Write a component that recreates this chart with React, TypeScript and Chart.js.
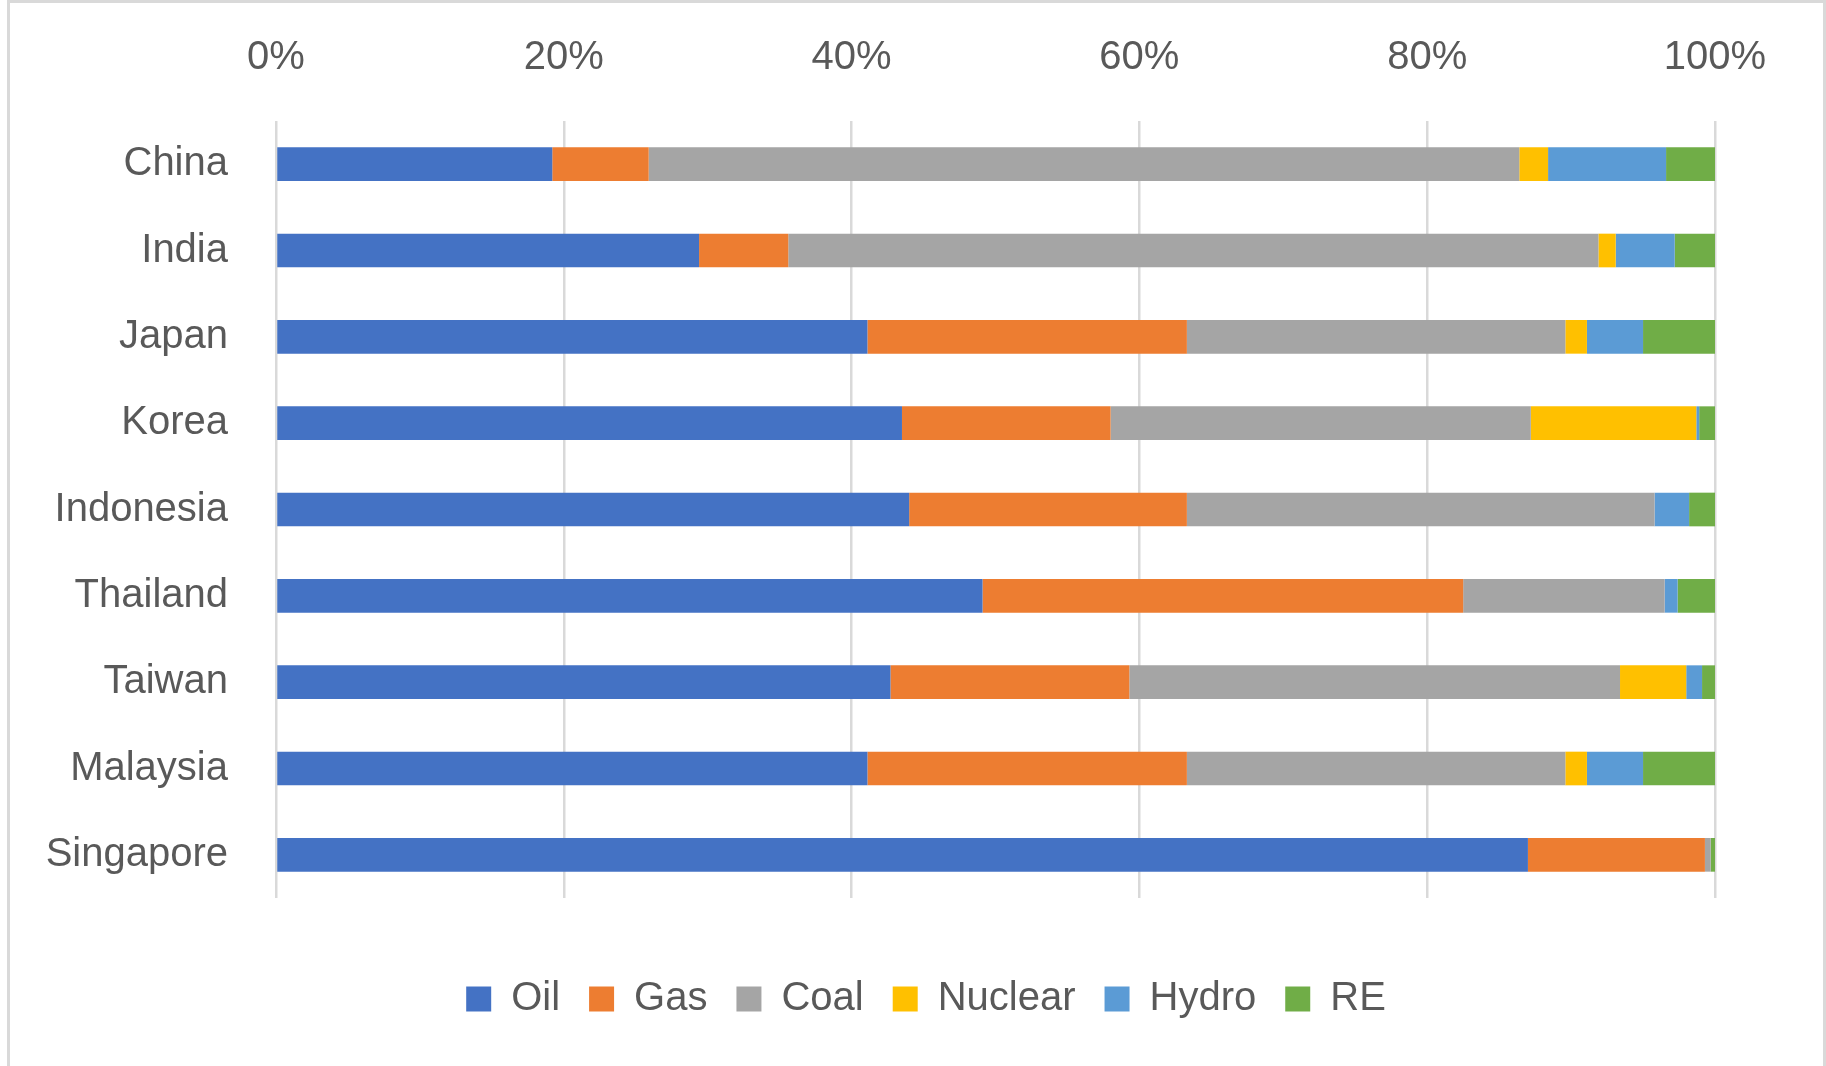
import React, { useEffect, useRef } from "react";
import { Chart, registerables } from "chart.js";

Chart.register(...registerables);

const categories = ["China", "India", "Japan", "Korea", "Indonesia", "Thailand", "Taiwan", "Malaysia", "Singapore"];
const oil = [19.2, 29.4, 41.1, 43.5, 44.0, 49.1, 42.7, 41.1, 87.0];
const gas = [6.7, 6.2, 22.2, 14.5, 19.3, 33.4, 16.6, 22.2, 12.3];
const coal = [60.5, 56.3, 26.3, 29.2, 32.5, 14.0, 34.1, 26.3, 0.4];
const nuclear = [2.0, 1.2, 1.5, 11.5, 0, 0, 4.6, 1.5, 0];
const hydro = [8.2, 4.1, 3.9, 0.2, 2.4, 0.9, 1.1, 3.9, 0];
const re = [3.4, 2.8, 5.0, 1.1, 1.8, 2.6, 0.9, 5.0, 0.3];
const xTicks = [0, 20, 40, 60, 80, 100];

const seriesNames = ["Oil", "Gas", "Coal", "Nuclear", "Hydro", "RE"];
const seriesColors = ["#4472C4", "#ED7D31", "#A5A5A5", "#FFC000", "#5B9BD5", "#70AD47"];

const W = 1826;
const H = 1066;
const FONT = "'Liberation Sans', Arial, sans-serif";
const TEXT = "#595959";

const framePlugin = {
  id: "frame",
  beforeDraw(chart: any) {
    const ctx = chart.ctx;
    ctx.save();
    ctx.fillStyle = "#ffffff";
    ctx.fillRect(0, 0, W, H);
    ctx.fillStyle = "#d9d9d9";
    ctx.fillRect(7, 0, 3, H);
    ctx.fillRect(7, 0, W - 7, 3);
    ctx.fillRect(W - 3, 0, 3, H);
    ctx.restore();
  },
};

// Legend in the reference is centred a little right of the canvas centre
const legendShiftPlugin = {
  id: "legendShift",
  afterLayout(chart: any) {
    const l = chart.legend;
    if (l) {
      l.left = 137;
      l.width = l.right - l.left;
    }
  },
};

export default function App() {
  const ref = useRef<HTMLCanvasElement | null>(null);

  useEffect(() => {
    if (!ref.current) return;
    const values = [oil, gas, coal, nuclear, hydro, re];
    const chart = new Chart(ref.current, {
      type: "bar",
      data: {
        labels: categories,
        datasets: seriesNames.map((name, i) => ({
          label: name,
          data: values[i],
          backgroundColor: seriesColors[i],
          borderWidth: 0,
          barPercentage: 0.39,
          categoryPercentage: 1,
        })),
      },
      options: {
        indexAxis: "y",
        responsive: false,
        animation: false,
        devicePixelRatio: 1,
        layout: { padding: { left: 0, right: 111, top: 0, bottom: 37 } },
        plugins: {
          legend: {
            position: "bottom",
            labels: {
              color: TEXT,
              font: { family: FONT, size: 40 },
              boxWidth: 25,
              boxHeight: 25,
              padding: 29,
            },
          },
          tooltip: { enabled: false },
        },
        scales: {
          x: {
            type: "linear",
            position: "top",
            stacked: true,
            min: 0,
            max: 100,
            afterBuildTicks: (s: any) => {
              s.ticks = xTicks.map((v) => ({ value: v }));
            },
            afterFit: (s: any) => {
              s.height = 121;
            },
            grid: { color: "#d9d9d9", lineWidth: 2.5, drawTicks: false },
            border: { display: false },
            ticks: {
              color: TEXT,
              font: { family: FONT, size: 40 },
              padding: 39,
              maxRotation: 0,
              callback: (v: any) => v + "%",
            },
          },
          x2: {
            type: "linear",
            axis: "x",
            position: "bottom",
            display: true,
            grid: { display: false },
            border: { display: false },
            ticks: { display: false },
            afterFit: (s: any) => {
              s.height = 52;
            },
          },
          y: {
            type: "category",
            stacked: true,
            afterFit: (s: any) => {
              s.width = 276;
            },
            grid: { display: false, drawTicks: false },
            border: { display: false },
            ticks: {
              color: TEXT,
              font: { family: FONT, size: 40 },
              padding: 48,
            },
          },
        },
      } as any,
      plugins: [framePlugin, legendShiftPlugin],
    });
    return () => chart.destroy();
  }, []);

  return (
    <div style={{ position: "absolute", left: 0, top: 0, width: W, height: H }}>
      <canvas ref={ref} width={W} height={H} style={{ display: "block" }} />
    </div>
  );
}
